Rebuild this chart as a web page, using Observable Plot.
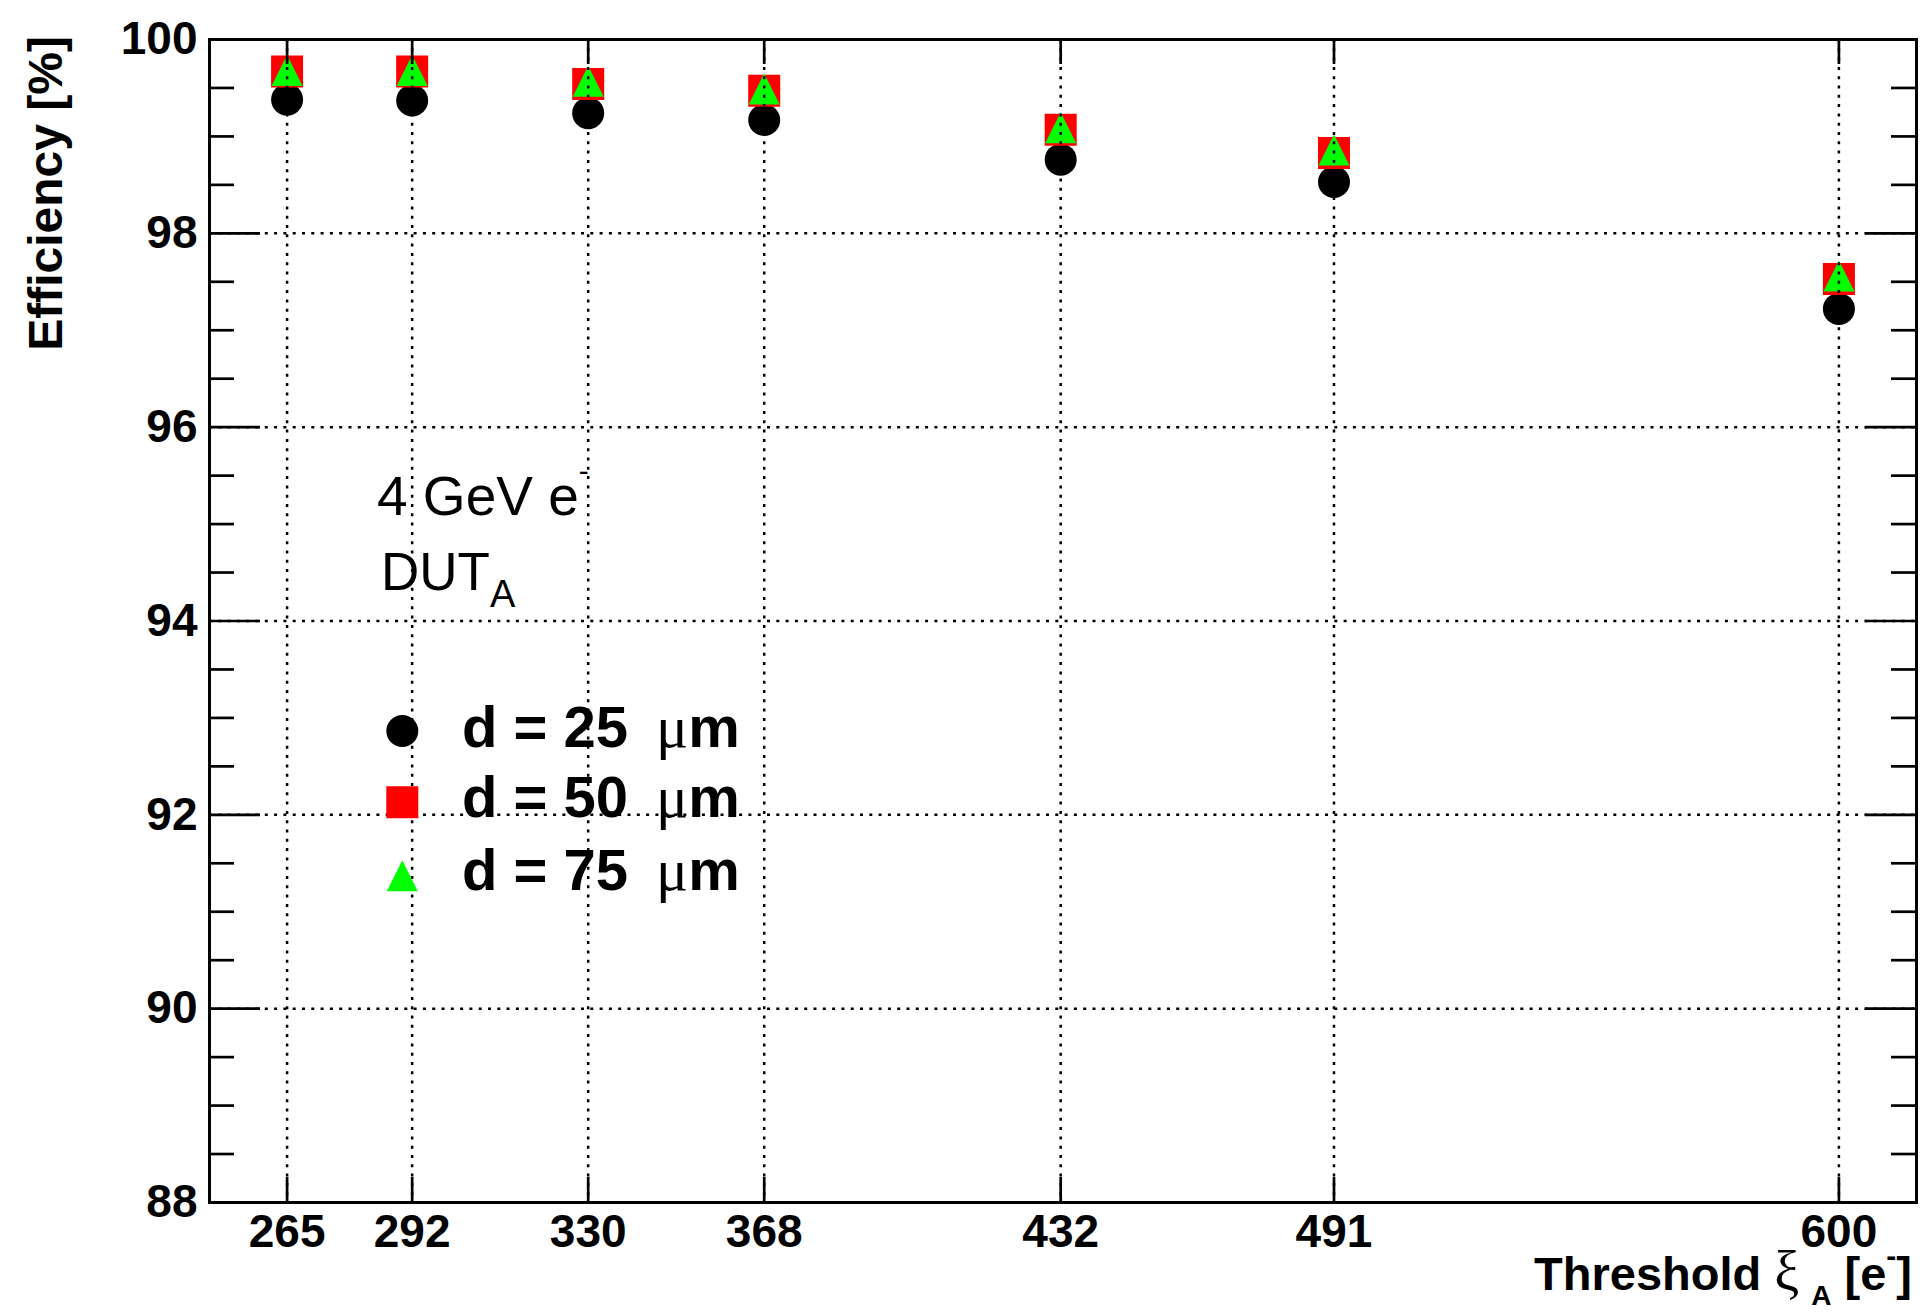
<!DOCTYPE html>
<html><head><meta charset="utf-8">
<script src="https://cdn.jsdelivr.net/npm/d3@7"></script>
<script src="https://cdn.jsdelivr.net/npm/@observablehq/plot@0.6"></script>
<style>
html,body{margin:0;padding:0;background:#fff;}
#chart svg{display:block;}
</style></head><body><div id="chart"></div>
<script>
// ---- data ----
const thresholds = [265, 292, 330, 368, 432, 491, 600];
const eff25 = [99.38, 99.37, 99.24, 99.17, 98.76, 98.53, 97.22];
const eff50 = [99.67, 99.67, 99.54, 99.47, 99.07, 98.83, 97.53];
const eff75 = [99.68, 99.68, 99.57, 99.49, 99.09, 98.86, 97.56];
const seriesLabels = ["d = 25", "d = 50", "d = 75"];
const seriesColors = ["#000000", "#ff0000", "#00ff00"];
const yMajorTicks = [88, 90, 92, 94, 96, 98, 100];
const yGridTicks = [90, 92, 94, 96, 98];
const yMinorTicks = [88.5, 89, 89.5, 90.5, 91, 91.5, 92.5, 93, 93.5, 94.5, 95, 95.5, 96.5, 97, 97.5, 98.5, 99, 99.5];
const xDomain = [248.25, 616.75];
const yDomain = [88, 100];

// ---- layout ----
const W = 1926, H = 1312, ML = 209, MR = 10, MT = 39, MB = 110;
const FW = W - ML - MR, FH = H - MT - MB;
const sans = "'Liberation Sans', Arial, Helvetica, sans-serif";
const serif = "'Liberation Serif', 'Times New Roman', 'DejaVu Serif', serif";

// ROOT-like marker shapes (centered on bounding box)
const rOf = size => Math.sqrt(size / Math.PI);
const symCircle = {draw(ctx, size) { const r = rOf(size); ctx.moveTo(r, 0); ctx.arc(0, 0, r, 0, 2 * Math.PI); ctx.closePath(); }};
const symSquare = {draw(ctx, size) { const r = rOf(size); ctx.rect(-r, -r, 2 * r, 2 * r); }};
const symTriangle = {draw(ctx, size) { const r = rOf(size); ctx.moveTo(0, -r); ctx.lineTo(r, r); ctx.lineTo(-r, r); ctx.closePath(); }};
const symbols = [symCircle, symSquare, symTriangle];
const radii = [16, 16, 15.5];

const series = [eff25, eff50, eff75].map((vals, s) => thresholds.map((t, i) => ({t, e: vals[i], s})));

const gridStyle = {stroke: "black", strokeWidth: 2.5, strokeDasharray: "3,6.3"};
const tickStyle = {stroke: "black", strokeWidth: 2.7};

const legendDy = [691.5, 762.8, 836.3];

const plot = Plot.plot({
  width: W, height: H,
  marginLeft: ML, marginRight: MR, marginTop: MT, marginBottom: MB,
  style: {fontFamily: sans, background: "white", color: "black", overflow: "visible"},
  x: {domain: xDomain},
  y: {domain: yDomain},
  marks: [
    ...series.map((rows, s) => Plot.dot(rows, {x: "t", y: "e", symbol: symbols[s], r: radii[s], fill: seriesColors[s], stroke: "none"})),
    Plot.ruleX(thresholds, gridStyle),
    Plot.ruleY(yGridTicks, gridStyle),
    Plot.ruleY(yMajorTicks, {...tickStyle, insetRight: FW - 51}),
    Plot.ruleY(yMajorTicks, {...tickStyle, insetLeft: FW - 51}),
    Plot.ruleY(yMinorTicks, {...tickStyle, insetRight: FW - 25}),
    Plot.ruleY(yMinorTicks, {...tickStyle, insetLeft: FW - 25}),
    Plot.ruleX(thresholds, {...tickStyle, insetTop: FH - 25}),
    Plot.ruleX(thresholds, {...tickStyle, insetBottom: FH - 25}),
    Plot.frame({stroke: "black", strokeWidth: 3}),
    Plot.axisY(yMajorTicks, {tickSize: 0, tickPadding: 12, fontSize: 46, fontWeight: "bold", label: null, tickFormat: d => String(d)}),
    Plot.axisX(thresholds, {tickSize: 0, tickPadding: 12, fontSize: 46, fontWeight: "bold", label: null, tickFormat: d => String(d)}),
    ...seriesLabels.map((lab, s) => Plot.dot([lab], {frameAnchor: "top-left", dx: 192.8, dy: legendDy[s], symbol: symbols[s], r: radii[s], fill: seriesColors[s], stroke: "none"}))
  ]
});
document.getElementById("chart").appendChild(plot);

// ---- rich text (sub/superscripts, greek) ----
const svg = d3.select(plot);

// y-axis title
svg.append("text")
  .attr("transform", "translate(62,36) rotate(-90)")
  .attr("text-anchor", "end")
  .attr("font-family", sans).attr("font-weight", "bold").attr("font-size", 48)
  .attr("fill", "black")
  .text("Efficiency [%]");

// x-axis title
const xt = svg.append("text")
  .attr("x", 1912).attr("y", 1290)
  .attr("text-anchor", "end")
  .attr("font-family", sans).attr("font-weight", "bold").attr("font-size", 47)
  .attr("fill", "black");
xt.append("tspan").text("Threshold ");
xt.append("tspan").attr("font-family", serif).attr("font-weight", "normal").attr("font-size", 56).text("ξ");
xt.append("tspan").attr("font-size", 28).attr("dx", 12).attr("dy", 15).text("A");
xt.append("tspan").attr("dy", -15).text(" [e");
xt.append("tspan").attr("font-size", 30).attr("dy", -24).text("-");
xt.append("tspan").attr("dy", 24).text("]");

// annotation
const a1 = svg.append("text").attr("x", 377).attr("y", 515)
  .attr("text-anchor", "start")
  .attr("font-family", sans).attr("font-size", 55).attr("fill", "black");
a1.append("tspan").text("4 GeV e");
a1.append("tspan").attr("font-size", 30).attr("dy", -34).text("-");
const a2 = svg.append("text").attr("x", 381).attr("y", 590)
  .attr("text-anchor", "start")
  .attr("font-family", sans).attr("font-size", 53).attr("fill", "black");
a2.append("tspan").text("DUT");
a2.append("tspan").attr("font-size", 38).attr("dy", 17).text("A");

// legend labels
const legendBase = [746.7, 817, 889.5];
seriesLabels.forEach((lab, s) => {
  const t = svg.append("text").attr("x", 462).attr("y", legendBase[s])
    .attr("text-anchor", "start")
    .attr("font-family", sans).attr("font-weight", "bold").attr("font-size", 58).attr("fill", "black");
  t.append("tspan").text(lab);
  t.append("tspan").attr("dx", 28).attr("font-family", serif).attr("font-weight", "normal").attr("font-size", 60).text("μ");
  t.append("tspan").text("m");
});
</script>
</body></html>
